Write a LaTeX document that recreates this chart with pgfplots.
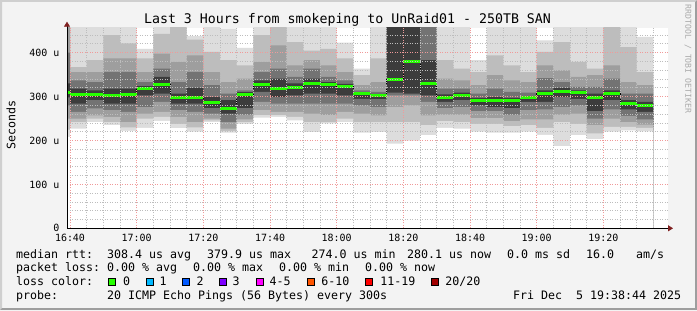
\documentclass[border=0pt]{standalone}
\usepackage{pgfplots}
\pgfplotsset{compat=1.18}
\usepackage{pgfplotstable}
\usetikzlibrary{arrows.meta}
\usepackage{fontspec}
\setmainfont{DejaVu Sans Mono}
\definecolor{bgc}{HTML}{F3F3F3}
\definecolor{shadea}{HTML}{CFCFCF}
\definecolor{shadeb}{HTML}{9E9E9E}
\definecolor{arrowc}{HTML}{7F1F1F}
\definecolor{mgridc}{HTML}{F09A9A}
\definecolor{gridc}{HTML}{BDBDBD}
\definecolor{rrdc}{HTML}{AAAAAA}
\definecolor{c1}{HTML}{DDDDDD}
\definecolor{c2}{HTML}{BDBDBD}
\definecolor{c3}{HTML}{9E9E9E}
\definecolor{c4}{HTML}{737373}
\definecolor{c5}{HTML}{3C3C3C}
\definecolor{loss0}{HTML}{26FF00}
\definecolor{loss1}{HTML}{00B8FF}
\definecolor{loss2}{HTML}{0059FF}
\definecolor{loss3}{HTML}{7E00FF}
\definecolor{loss4}{HTML}{FF00FF}
\definecolor{loss5}{HTML}{FF5500}
\definecolor{loss6}{HTML}{FF0000}
\definecolor{loss7}{HTML}{A10000}

% x = minutes after 16:40; each row holds one 5-minute column (band edges in microseconds)
\pgfplotstableread{
x     h1  h2  h3  h4  h5  med l5  l4  l3  l2  l1
-0.9  470 470 470 400 330 309 298 280 250 225 208
0     470 367 356 337 318 305 284 265 250 242 227
5     470 383 356 333 314 305 292 273 257 250 242
10    470 440 387 356 318 303 284 269 254 242 235
15    470 421 387 356 318 305 284 265 242 230 222
20    409 387 356 333 324 319 303 276 261 250 229
25    470 443 398 364 345 327 307 288 265 254 245
30    470 470 379 333 307 297 284 269 254 238 228
35    438 430 394 356 320 299 284 265 242 230 220
40    470 402 356 326 299 287 274 261 250 246 242
45    455 383 333 307 292 274 261 242 227 222 218
50    411 371 341 314 310 305 274 259 248 242 238
55    470 440 379 356 337 328 311 288 269 258 252
60    470 470 417 364 341 318 299 284 265 258 254
65    470 424 371 345 330 320 303 284 265 254 246
70    470 405 383 364 341 329 307 284 261 242 219
75    470 409 371 345 333 327 307 284 258 242 239
80    423 387 356 337 329 324 303 284 265 250 242
85    364 349 326 314 309 306 295 280 261 242 218
90    470 387 333 311 306 302 294 276 257 242 219
95    470 470 470 470 470 339 309 303 276 242 193
100   470 470 470 470 470 379 307 303 280 242 200
105   470 470 470 470 383 331 303 288 257 235 212
110   470 383 341 318 305 298 288 274 259 244 229
115   470 364 337 318 309 302 292 276 259 242 227
120   383 356 326 307 297 291 280 267 251 238 220
125   470 394 349 318 299 292 276 267 251 238 218
130   470 371 337 311 297 291 274 259 244 233 218
135   470 356 333 309 301 297 288 269 248 235 220
140   428 402 371 342 314 307 288 271 248 229 213
145   470 424 360 333 320 312 299 276 259 242 187
150   470 379 345 322 314 309 295 280 261 238 212
155   470 364 349 322 307 298 267 250 235 216 203
160   470 470 371 341 314 307 292 271 250 231 220
165   470 413 333 307 292 284 271 256 242 231 223
170   436 356 326 307 288 280 265 248 236 229 221
175   436 356 326 307 288 280 265 248 236 229 221
}\smoke

\tikzset{lg/.style={anchor=base west, inner sep=0pt, font=\fontsize{11.67}{14}\selectfont}}

\begin{document}
\begin{tikzpicture}[x=1bp,y=1bp]
\fill[bgc] (0,0) rectangle (697,310);
\fill[shadea] (0,0) -- (0,310) -- (697,310) -- (695,308) -- (2,308) -- (2,2) -- cycle;
\fill[shadeb] (0,0) -- (697,0) -- (697,310) -- (695,308) -- (695,2) -- (2,2) -- cycle;

\begin{axis}[
  at={(67bp,81.7bp)}, anchor=south west,
  scale only axis, width=601bp, height=200.6bp,
  xmin=-0.9, xmax=179.4, ymin=0, ymax=457,
  axis lines=left,
  axis line style={line width=0.8bp, color=black},
  x axis line style={-{Triangle[length=5bp,width=6bp,color=arrowc]}, shorten >=-5bp},
  y axis line style={-{Triangle[length=5bp,width=6bp,color=arrowc]}, shorten >=-6bp},
  axis background/.style={fill=white},
  axis on top,
  xtick={0,20,...,160},
  xticklabels={16:40,17:00,17:20,17:40,18:00,18:20,18:40,19:00,19:20},
  minor xtick={5,10,15,25,30,35,45,50,55,65,70,75,85,90,95,105,110,115,125,130,135,145,150,155,165,170,175},
  ytick={0,100,200,300,400},
  yticklabels={0,100 u,200 u,300 u,400 u},
  minor ytick={20,40,60,80,120,140,160,180,220,240,260,280,320,340,360,380,420,440},
  grid=both,
  major grid style={color=mgridc, line width=1bp, dash pattern=on 1bp off 1.5bp},
  minor grid style={color=gridc, line width=0.9bp, dash pattern=on 1bp off 1.5bp},
  major tick length=0pt, minor tick length=0pt,
  tick label style={font=\fontsize{10}{12}\selectfont},
  yticklabel style={xshift=-4bp},
  xticklabel style={yshift=-2bp},
]
% upper edges of the nested smoke bands (each filled down to the axis)
\addplot[const plot, draw=none, fill=c1] table[x=x,y=h1]{\smoke} \closedcycle;
\addplot[const plot, draw=none, fill=c2] table[x=x,y=h2]{\smoke} \closedcycle;
\addplot[const plot, draw=none, fill=c3] table[x=x,y=h3]{\smoke} \closedcycle;
\addplot[const plot, draw=none, fill=c4] table[x=x,y=h4]{\smoke} \closedcycle;
\addplot[const plot, draw=none, fill=c5] table[x=x,y=h5]{\smoke} \closedcycle;
% lower edges of the bands
\addplot[const plot, draw=none, fill=c4] table[x=x,y=l5]{\smoke} \closedcycle;
\addplot[const plot, draw=none, fill=c3] table[x=x,y=l4]{\smoke} \closedcycle;
\addplot[const plot, draw=none, fill=c2] table[x=x,y=l3]{\smoke} \closedcycle;
\addplot[const plot, draw=none, fill=c1] table[x=x,y=l2]{\smoke} \closedcycle;
\addplot[const plot, draw=none, fill=white] table[x=x,y=l1]{\smoke} \closedcycle;
% median
\addplot[const plot, black, line width=0.8bp, dash pattern=on 1bp off 1bp] table[x=x,y=med]{\smoke};
\addplot[jump mark left, color=loss0, line width=3bp] table[x=x,y=med]{\smoke};
\end{axis}

\node[anchor=base, inner sep=0pt, font=\fontsize{13.3}{15}\selectfont] at (347.5,286.7) {Last 3 Hours from smokeping to UnRaid01 - 250TB SAN};
\node[rotate=90, inner sep=0pt, font=\fontsize{11.67}{14}\selectfont] at (11,185) {Seconds};
\node[rotate=-90, inner sep=0pt, text=rrdc, font=\fontsize{8.2}{10}\selectfont] at (688,251) {RRDTOOL / TOBI OETIKER};

\node[lg] at (16,52) {median rtt:};
\node[lg] at (107,52) {308.4 us avg};
\node[lg] at (207,52) {379.9 us max};
\node[lg] at (311.5,52) {274.0 us min};
\node[lg] at (407,52) {280.1 us now};
\node[lg] at (507,52) {0.0 ms sd};
\node[lg] at (586,52) {16.0};
\node[lg] at (636,52) {am/s};

\node[lg] at (16,38.3) {packet loss:};
\node[lg] at (107,38.3) {0.00 \% avg};
\node[lg] at (193,38.3) {0.00 \% max};
\node[lg] at (279,38.3) {0.00 \% min};
\node[lg] at (365,38.3) {0.00 \% now};

\node[lg] at (16,24.3) {loss color:};
\filldraw[fill=loss0, draw=black, line width=0.8bp] (108.7,24.7) rectangle ++(6.9,7.2);
\node[lg] at (122.8,24.3) {0};
\filldraw[fill=loss1, draw=black, line width=0.8bp] (146.1,24.7) rectangle ++(6.9,7.2);
\node[lg] at (159.5,24.3) {1};
\filldraw[fill=loss2, draw=black, line width=0.8bp] (182.7,24.7) rectangle ++(6.9,7.2);
\node[lg] at (196.5,24.3) {2};
\filldraw[fill=loss3, draw=black, line width=0.8bp] (219.4,24.7) rectangle ++(6.9,7.2);
\node[lg] at (232.5,24.3) {3};
\filldraw[fill=loss4, draw=black, line width=0.8bp] (256.4,24.7) rectangle ++(6.9,7.2);
\node[lg] at (269.5,24.3) {4-5};
\filldraw[fill=loss5, draw=black, line width=0.8bp] (307.7,24.7) rectangle ++(6.9,7.2);
\node[lg] at (321.2,24.3) {6-10};
\filldraw[fill=loss6, draw=black, line width=0.8bp] (365.4,24.7) rectangle ++(6.9,7.2);
\node[lg] at (380.2,24.3) {11-19};
\filldraw[fill=loss7, draw=black, line width=0.8bp] (431.4,24.7) rectangle ++(6.9,7.2);
\node[lg] at (445.2,24.3) {20/20};

\node[lg] at (16,10.7) {probe:};
\node[lg] at (107,10.7) {20 ICMP Echo Pings (56 Bytes) every 300s};
\node[lg] at (513,10.7) {Fri Dec\ \ 5 19:38:44 2025};
\end{tikzpicture}
\end{document}
